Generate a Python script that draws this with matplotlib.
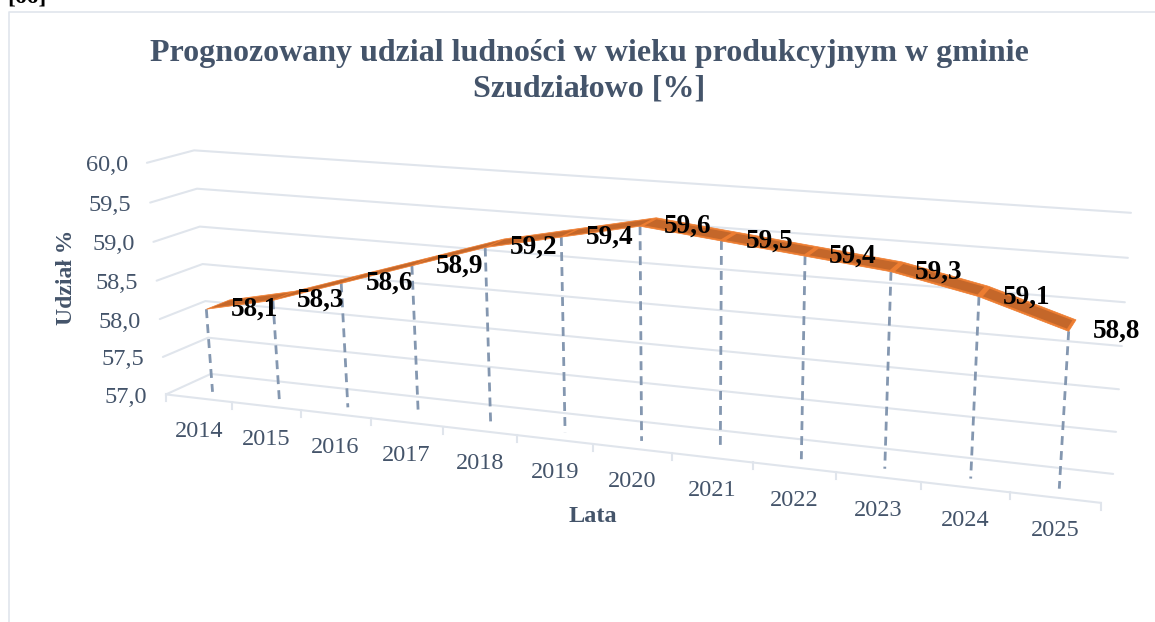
import numpy as np
import matplotlib
matplotlib.use('Agg')
import matplotlib.pyplot as plt

lata = ['2014', '2015', '2016', '2017', '2018', '2019', '2020', '2021', '2022', '2023', '2024', '2025']
udzial = [58.1, 58.3, 58.6, 58.9, 59.2, 59.4, 59.6, 59.5, 59.4, 59.3, 59.1, 58.8]
os_y = [57.0, 57.5, 58.0, 58.5, 59.0, 59.5, 60.0]

SLATE = '#44546A'
SIATKA = '#E0E5EC'
ORANGE = '#ED7D31'
DARK = '#C4672A'
DROP = '#8497B0'

plt.rcParams['font.family'] = ['Liberation Serif', 'DejaVu Serif']

# box corners of the fake 3D chart: (category, value, depth) -> pixel
kal_3d = [(0, 60, 0), (0, 57, 0), (0, 60, 1), (0, 57, 1), (12, 60, 1), (12, 57, 1), (12, 57, 0), (6, 57, 0)]
kal_px = [(148, 163), (165, 394), (193, 150), (212, 374), (1131, 213), (1113, 474), (1101, 502), (593, 445)]


def norm(u, v, d):
    return np.asarray(u, float) / 12, (np.asarray(v, float) - 57) / 3, np.asarray(d, float)


# perspective matrix, least squares fit
rows = []
for (u, v, d), (px, py) in zip(kal_3d, kal_px):
    a, b, c = norm(u, v, d)
    px, py = px / 1000, py / 1000
    rows.append([a, b, c, 1, 0, 0, 0, 0, -px * a, -px * b, -px * c, -px])
    rows.append([0, 0, 0, 0, a, b, c, 1, -py * a, -py * b, -py * c, -py])
P = np.linalg.svd(np.array(rows, float))[2][-1].reshape(3, 4)


def proj(u, v, d):
    a, b, c = norm(u, v, d)
    h = np.stack([a, b, c, np.ones_like(a)])
    q = P @ h
    return q[0] / q[2] * 1000, q[1] / q[2] * 1000


fig = plt.figure(figsize=(11.55, 6.22), dpi=100)
ax = fig.add_axes([0, 0, 1, 1])
ax.set_xlim(0, 1155)
ax.set_ylim(622, 0)
ax.axis('off')

# frame of the chart, cut by the page
ax.plot([9, 9, 1155], [622, 12, 12], color=SIATKA, lw=1.2)
ax.text(7, 3, '[66]', fontsize=17, fontweight='bold', color='black', va='baseline', ha='left')

# walls
for v in os_y:
    x, y = proj([0, 0, 12], [v, v, v], [0, 1, 1])
    ax.plot(x, y, color=SIATKA, lw=1.5, solid_capstyle='round', zorder=1)
    ax.text(x[0] - 19, y[0] + 3, ('%.1f' % v).replace('.', ','), fontsize=17.5, color=SLATE, ha='right', va='center')

# floor front edge, ticks, year labels
x, y = proj([0, 12], [57, 57], [0, 0])
ax.plot(x, y, color=SIATKA, lw=1.5, zorder=1)
for i in range(13):
    x, y = proj(i, 57, 0)
    ax.plot([x, x], [y, y + 7], color=SIATKA, lw=1.5, zorder=1)
for i, rok in enumerate(lata):
    x, y = proj(i + 0.5, 57, 0)
    ax.text(x, y + 33, rok, fontsize=17.5, color=SLATE, ha='center', va='center')

# ribbon
xs = np.arange(len(udzial)) + 0.5
d0, d1 = 0.30, 0.82
pad = 0.07
top_x, top_y = proj(xs, udzial, np.full(12, d1))
bot_x, bot_y = proj(xs, udzial, np.full(12, d0))
for i in range(12):
    x, y = proj(xs[i], 57, d0)
    ax.plot([bot_x[i], x], [bot_y[i], y], color=DROP, lw=2, dashes=(3.2, 2.2), zorder=2)
ax.fill(np.r_[bot_x, top_x[::-1]], np.r_[bot_y, top_y[::-1]], color=ORANGE, lw=0.5, zorder=3)
for i in range(11):
    u = xs[i:i + 2]
    v = udzial[i:i + 2]
    xa, ya = proj(u, v, np.full(2, d0 + pad))
    xb, yb = proj(u, v, np.full(2, d1 - pad))
    s = 0.03
    xa = xa + np.array([s, -s]) * (xa[1] - xa[0])
    ya = ya + np.array([s, -s]) * (ya[1] - ya[0])
    xb = xb + np.array([s, -s]) * (xb[1] - xb[0])
    yb = yb + np.array([s, -s]) * (yb[1] - yb[0])
    ax.fill(np.r_[xa, xb[::-1]], np.r_[ya, yb[::-1]], color=DARK, lw=0, zorder=4)

# value labels
for i, w in enumerate(udzial):
    ax.annotate(('%.1f' % w).replace('.', ','), (bot_x[i], bot_y[i]), xytext=(48, 0), textcoords='offset pixels',
                fontsize=19.5, fontweight='bold', color='black', ha='center', va='center', zorder=5)

ax.text(589, 53, 'Prognozowany udzial ludności w wieku produkcyjnym w gminie', fontsize=23, fontweight='bold',
        color=SLATE, ha='center', va='center')
ax.text(589, 89, 'Szudziałowo [%]', fontsize=23, fontweight='bold', color=SLATE, ha='center', va='center')
ax.text(66, 277, 'Udział %', fontsize=17, fontweight='bold', color=SLATE, rotation=90, ha='center', va='center')
ax.text(593, 517, 'Lata', fontsize=17.5, fontweight='bold', color=SLATE, ha='center', va='center')

fig.savefig('out.png', dpi=100)
